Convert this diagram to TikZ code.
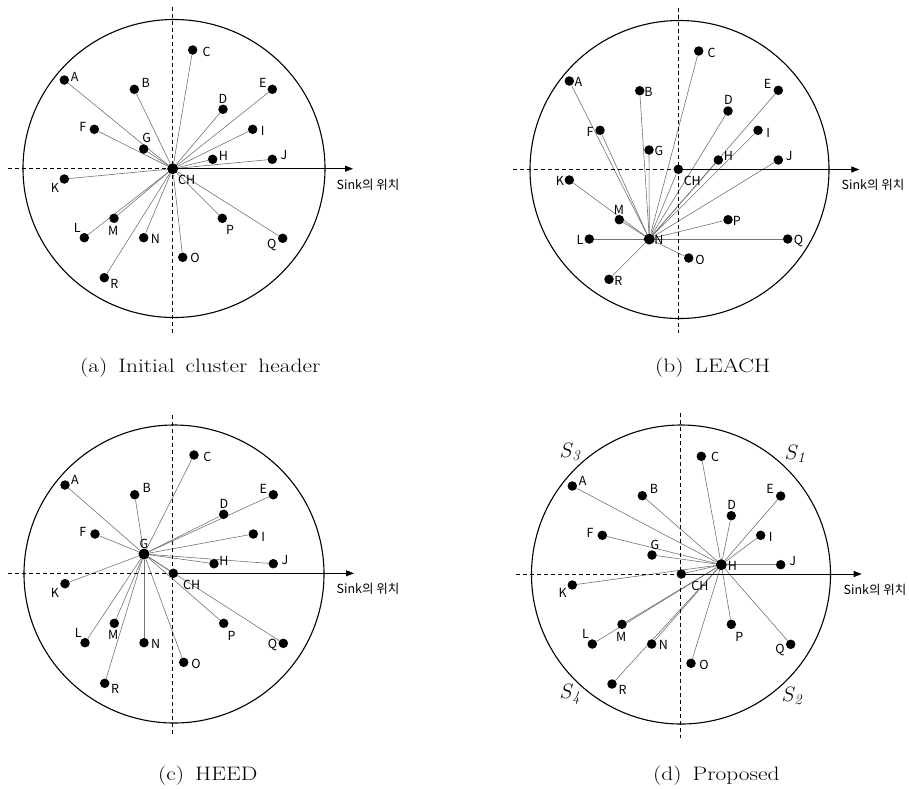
\documentclass[tikz,border=0pt]{standalone}
\usepackage{fontspec}
\newfontfamily\kr{Noto Sans CJK KR}
\usetikzlibrary{arrows.meta,backgrounds}
\tikzset{
  dot/.style={circle,fill=black,inner sep=0pt,minimum size=9.5pt},
  headdot/.style={dot,minimum size=11pt},
  lbl/.style={font=\kr\fontsize{12.5}{12.5}\selectfont,inner sep=0pt},
  link/.style={draw=black!55,line width=0.6pt},
  field/.style={line width=1.1pt},
  axis/.style={dash pattern=on 4pt off 3pt,line width=0.9pt},
  sinkarrow/.style={line width=0.8pt,-{Triangle[length=8pt,width=6pt]}},
  capt/.style={anchor=west,inner sep=0pt,font=\fontsize{19.5}{21}\selectfont},
  sect/.style={inner sep=0pt,font=\fontsize{21}{23}\selectfont},
}
\newcommand\sn[6]{%
  \node[dot] (#1) at (#2,#3) {};
  \node[lbl] (#1t) at ({#2+#5},{#3+#6}) {#4};}
\newcommand\hn[6]{%
  \node[headdot] (#1) at (#2,#3) {};
  \node[lbl] (#1t) at ({#2+#5},{#3+#6}) {#4};}
\begin{document}
\begin{tikzpicture}[x=1pt,y=-1pt]
\useasboundingbox (0,0) rectangle (909,788);

% ---------------- panel (a)
\draw[field] (174,168.5) ellipse [x radius=151, y radius=149];
\coordinate (avt) at (172.7,6.7); \coordinate (avb) at (172.7,333);
\coordinate (ahl) at (8,168.7); \coordinate (aO) at (172.7,168.7); \coordinate (ahr) at (353,168.7);
\draw[axis] (avt) -- (avb);
\draw[axis] (ahl) -- (aO);
\draw[sinkarrow] (aO) -- (ahr);
\node[lbl] (asink) at (368,185) {Sink의 위치};
\sn{aA}{64.3}{80}{A}{10.4}{-3.3}
\sn{aB}{134.3}{89.3}{B}{11.4}{-6}
\sn{aC}{192.7}{50}{C}{14}{1.7}
\sn{aD}{223}{109.3}{D}{0}{-10.3}
\sn{aE}{272.3}{89.3}{E}{-9.6}{-6}
\sn{aF}{94.3}{129.3}{F}{-11.6}{-2}
\sn{aG}{143.7}{149}{G}{3}{-10.7}
\sn{aH}{212.7}{159.3}{H}{10.6}{-3.6}
\sn{aI}{252.7}{129.3}{I}{10}{1.7}
\sn{aJ}{272.3}{159.3}{J}{11.7}{-4.3}
\sn{aK}{64.3}{179}{K}{-9.3}{8.7}
\sn{aL}{84.3}{237.7}{L}{-7}{-9.4}
\sn{aM}{114}{218.3}{M}{-0.7}{12.4}
\sn{aN}{143.7}{237.7}{N}{11.6}{1}
\sn{aO2}{182.7}{257.3}{O}{12.3}{1}
\sn{aP}{222.3}{218.3}{P}{7.7}{11.7}
\sn{aQ}{282.7}{238.3}{Q}{-11}{6.7}
\sn{aR}{104.3}{277.7}{R}{10}{6.3}
\hn{aCH}{172.7}{168.7}{CH}{14}{11.3}
\begin{scope}[on background layer]
\foreach \n in {A,B,C,D,E,F,G,H,I,J,K,L,M,N,O2,P,Q,R}
  \draw[link] (aCH) -- (a\n);
\end{scope}
\node[capt] (acap) at (80,368) {\scalebox{1.2}[1]{(a)\ \,Initial\ \,cluster\ \,header}};

% ---------------- panel (b)
\draw[field] (679.5,169.5) ellipse [x radius=149.5, y radius=149];
\coordinate (bvt) at (678.3,8.3); \coordinate (bvb) at (678.3,333);
\coordinate (bhl) at (513.3,169.5); \coordinate (bO) at (678.3,169.5); \coordinate (bhr) at (859.3,169.5);
\draw[axis] (bvt) -- (bvb);
\draw[axis] (bhl) -- (bO);
\draw[sinkarrow] (bO) -- (bhr);
\node[lbl] (bsink) at (873,185) {Sink의 위치};
\sn{bA}{569.3}{81}{A}{9}{0.7}
\sn{bB}{639.7}{90.7}{B}{8.7}{1}
\sn{bC}{698.7}{51}{C}{13}{1.7}
\sn{bD}{728}{111}{D}{0.3}{-11}
\sn{bE}{778.3}{90.3}{E}{-10.7}{-6}
\sn{bF}{600}{130.3}{F}{-10}{1.3}
\sn{bG}{649}{150}{G}{10}{1}
\sn{bH}{718.3}{160}{H}{10}{-4}
\sn{bI}{758}{130.3}{I}{10.3}{2.3}
\sn{bJ}{778.3}{160}{J}{11}{-4.3}
\sn{bK}{569.3}{180}{K}{-9.3}{1}
\sn{bL}{589.3}{239}{L}{-9.3}{1}
\sn{bM}{619.3}{219.7}{M}{-0.3}{-9.7}
\sn{bO2}{688.7}{258}{O}{11.3}{1.7}
\sn{bP}{728}{219.7}{P}{8.7}{1}
\sn{bQ}{787.7}{239}{Q}{10.7}{1.7}
\sn{bR}{609}{279.3}{R}{9.3}{1.3}
\sn{bCH}{678.3}{169.3}{CH}{14}{11.7}
\hn{bN}{649.3}{239}{N}{9.7}{1}
\begin{scope}[on background layer]
\foreach \n in {A,B,C,D,E,F,G,H,I,J,K,L,M,O2,P,Q,R,CH}
  \draw[link] (bN) -- (b\n);
\end{scope}
\node[capt] (bcap) at (655,368) {\scalebox{1.2}[1]{(b)\ \,LEACH}};

% ---------------- panel (c)
\draw[field] (174,574) ellipse [x radius=150, y radius=149];
\coordinate (cvt) at (172.7,415); \coordinate (cvb) at (172.7,736.7);
\coordinate (chl) at (8.3,573.3); \coordinate (cO) at (172.7,573.3); \coordinate (chr) at (354,573.3);
\draw[axis] (cvt) -- (cvb);
\draw[axis] (chl) -- (cO);
\draw[sinkarrow] (cO) -- (chr);
\node[lbl] (csink) at (368,589) {Sink의 위치};
\sn{cA}{65}{485}{A}{10}{-5}
\sn{cB}{134.7}{494.7}{B}{12}{-6.3}
\sn{cC}{194}{455}{C}{13.3}{1.7}
\sn{cD}{223.7}{514.3}{D}{0.3}{-10.3}
\sn{cE}{273.3}{494.7}{E}{-10}{-6}
\sn{cF}{95}{534}{F}{-12.3}{-1.7}
\sn{cH}{214}{563.7}{H}{10}{-2.7}
\sn{cI}{253.3}{534}{I}{10}{2.7}
\sn{cJ}{273.3}{563.7}{J}{11.7}{-3.3}
\sn{cK}{65}{583.7}{K}{-10}{9}
\sn{cL}{85}{642.7}{L}{-6.7}{-10}
\sn{cM}{114.3}{623.3}{M}{-1}{12}
\sn{cN}{144}{642.7}{N}{11.7}{1.3}
\sn{cO2}{183.7}{662.3}{O}{12.3}{1.7}
\sn{cP}{223.7}{623.3}{P}{8}{12.7}
\sn{cQ}{283.3}{643.3}{Q}{-10.7}{1.7}
\sn{cR}{104.7}{683.3}{R}{10.3}{5.7}
\sn{cCH}{173.3}{573.3}{CH}{18.3}{11.7}
\hn{cG}{144}{554}{G}{0}{-10}
\begin{scope}[on background layer]
\foreach \n in {A,B,C,D,E,F,H,I,J,K,L,M,N,O2,P,Q,R,CH}
  \draw[link] (cG) -- (c\n);
\end{scope}
\node[capt] (ccap) at (158,776) {\scalebox{1.2}[1]{(c)\ \,HEED}};

% ---------------- panel (d)
\draw[field] (681,574.5) ellipse [x radius=149.5, y radius=149.5];
\coordinate (dvt) at (680.3,413.3); \coordinate (dvb) at (680.3,738.3);
\coordinate (dhl) at (516,574); \coordinate (dO) at (680.3,574); \coordinate (dhr) at (861.7,574);
\draw[axis] (dvt) -- (dvb);
\draw[axis] (dhl) -- (dO);
\draw[sinkarrow] (dO) -- (dhr);
\node[lbl] (dsink) at (875,590) {Sink의 위치};
\sn{dA}{572.3}{486}{A}{10.3}{-5}
\sn{dB}{642.3}{495.7}{B}{11.7}{-6.3}
\sn{dC}{701.3}{456.3}{C}{13.7}{1}
\sn{dD}{731.3}{515.7}{D}{0.3}{-10.7}
\sn{dE}{780.7}{496}{E}{-10.7}{-6.7}
\sn{dF}{602.3}{535.3}{F}{-12.3}{-2}
\sn{dG}{652}{555}{G}{3}{-10}
\sn{dI}{760.7}{535.3}{I}{10}{1.3}
\sn{dJ}{780.7}{564.7}{J}{12}{-4}
\sn{dK}{572.3}{585}{K}{-9.7}{8.3}
\sn{dL}{592.3}{644}{L}{-6.7}{-10}
\sn{dM}{622}{624.3}{M}{-0.7}{12.3}
\sn{dN}{651.7}{644}{N}{11.7}{1}
\sn{dO2}{691}{663.3}{O}{13}{1.7}
\sn{dP}{731.3}{624.3}{P}{8}{13}
\sn{dQ}{790.7}{644.3}{Q}{-10.7}{5.7}
\sn{dR}{612}{684}{R}{10.7}{6}
\sn{dCH}{681.3}{574}{CH}{18.7}{12}
\hn{dH}{721.3}{564.7}{H}{11}{1}
\begin{scope}[on background layer]
\foreach \n in {A,B,C,D,E,F,G,I,J,K,L,M,N,O2,P,Q,R,CH}
  \draw[link] (dH) -- (d\n);
\end{scope}
\node[sect] (s3) at (570,452) {$S_{\mathit{3}}$};
\node[sect] (s1) at (795,454) {$S_{\mathit{1}}$};
\node[sect] (s4) at (570,694) {$S_{\mathit{4}}$};
\node[sect] (s2) at (792,696) {$S_{\mathit{2}}$};
\node[capt] (dcap) at (653,776) {\scalebox{1.2}[1]{(d)\ \,Proposed}};
\end{tikzpicture}
\end{document}
